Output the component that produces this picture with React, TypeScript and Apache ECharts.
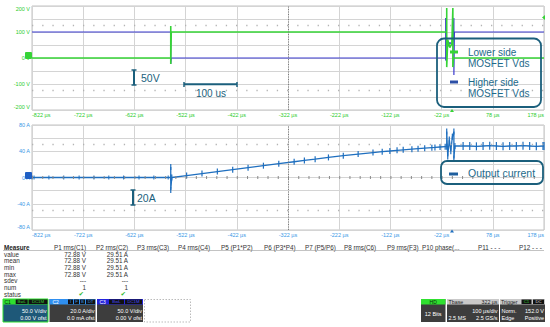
import React, { useEffect, useRef } from 'react';
import * as echarts from 'echarts';

// ---------- data ----------
const AXIS_OFFSET_US = 822; // x axis runs 0..1000 internally, label = value - offset
const voltLabelValues = [-200, -100, 0, 100, 200];
const ampLabelValues = [-80, -40, 0, 40, 80];

const lowSideTimeUs = [-822, -551, -551, -551, -550, -12, -12, -12, -10, -6, -2, 0, 0, 1, 178];
const lowSideVolts = [0, 0, 123, -23, 100, 100, 192, -35, 70, 40, 55, 192, -35, 0, 0];

const highSideTimeUs = [-822, -551, -551, -550, -14, -14, -14, -11, -6, -1, 2, 2, 3, 178];
const highSideVolts = [100, 100, -23, 0, 0, 154, -10, 40, 60, 50, 154, -65, 100, 100];

const currentTimeUs = [
  -822, -818, -789, -760, -730, -701, -672, -643, -613, -584, -556, -551, -551, -551, -549,
  -520, -490, -460, -430, -400, -370, -340, -310, -290, -269, -243, -214, -185, -156, -138,
  -123, -109, -97, -80, -68, -55, -41, -35, -25, -15, -12, -12, -10, -7, -4, -1, 2, 2, 4,
  20, 33, 46, 59, 72, 85, 98, 111, 124, 137, 150, 163, 176, 178,
];
const currentAmps = [
  0, 0, 0, 0, 0, 0, 0, 0, 0, 0, 0, 0, 16, -19, 0,
  3, 6, 9, 12, 15, 18, 21, 24, 26, 28, 30.6, 33.3, 35.7, 38, 39.4,
  40.4, 41.4, 42.2, 43.2, 43.9, 44.7, 45.5, 45.8, 46.5, 47, 47, 70, 32, 58, 40, 62, 70, 29, 48,
  48, 48, 47.5, 48, 48.5, 48, 47.5, 48, 48, 48.5, 48, 47.5, 48, 48,
];

const measureHeaders = ['P1 rms(C1)', 'P2 rms(C2)', 'P3 rms(C3)', 'P4 rms(C4)', 'P5 (P1*P2)', 'P6 (P3*P4)', 'P7 (P5/P6)', 'P8 rms(C6)', 'P9 rms(F3)', 'P10 phase(...', 'P11 - - -', 'P12 - - -'];
const measureRows = ['value', 'mean', 'min', 'max', 'sdev', 'num', 'status'];
const p1Values = ['72.88 V', '72.88 V', '72.88 V', '72.88 V', '---', '1', '✔'];
const p2Values = ['29.51 A', '29.51 A', '29.51 A', '29.51 A', '---', '1', '✔'];

// ---------- layout / style ----------
const FONT = '"Liberation Sans", Arial, sans-serif';
const GREEN = '#36d336';
const BLUE_V = '#3b3bd0';
const BLUE_I = '#1f6fbf';
const TEAL = '#1b5f7c';
const LBL_GREEN = '#2ccc2c';
const LBL_BLUE = '#3a98e6';
const headerX = [54, 96, 137, 178, 221, 264, 305, 344, 387, 422, 478, 519];

const pairs = (ts: number[], vs: number[]) => ts.map((t, i) => [t + AXIS_OFFSET_US, vs[i]]);

function txt(x: number, y: number, text: string, size: number, fill: string, align = 'left', vAlign = 'middle', weight = 'normal', family = FONT) {
  return {
    type: 'text', x, y, z: 100, silent: true,
    style: { text, fill, fontSize: size, fontFamily: family, fontWeight: weight, align, verticalAlign: vAlign, textAlign: align, textVerticalAlign: vAlign },
  };
}
function rect(x: number, y: number, w: number, h: number, style: any, r = 0) {
  return { type: 'rect', z: 99, silent: true, shape: { x, y, width: w, height: h, r }, style };
}
function ln(x1: number, y1: number, x2: number, y2: number, stroke: string, lineWidth = 1, extra: any = {}) {
  return { type: 'line', z: 100, silent: true, shape: { x1, y1, x2, y2 }, style: { stroke, lineWidth, ...extra } };
}
function poly(points: number[][], fill: string) {
  return { type: 'polygon', z: 101, silent: true, shape: { points }, style: { fill } };
}

function buildGraphics() {
  const g: any[] = [];
  // channel markers
  g.push(rect(25, 52, 7, 7, { fill: GREEN }, 1));
  g.push(rect(25, 172, 7, 7, { fill: '#1f5fc4' }, 1));
  // trigger markers
  g.push(poly([[450, 112], [454, 112], [452, 109]], GREEN));
  g.push(poly([[450, 232.5], [454, 232.5], [452, 229.5]], BLUE_I));
  g.push(poly([[545, 15], [545, 20], [542, 17.5]], GREEN));

  // scale annotations
  g.push(ln(134, 70, 134, 85, TEAL, 2));
  g.push(ln(131.5, 70, 136.5, 70, TEAL, 1.5));
  g.push(ln(131.5, 85, 136.5, 85, TEAL, 1.5));
  g.push(txt(141, 78, '50V', 10.5, TEAL));
  g.push(ln(184, 84.3, 237, 84.3, TEAL, 2));
  g.push(ln(184, 82, 184, 87, TEAL, 1.5));
  g.push(ln(237, 82, 237, 87, TEAL, 1.5));
  g.push(txt(211, 93.5, '100 us', 10, TEAL, 'center'));
  g.push(ln(133, 190, 133, 205, TEAL, 2));
  g.push(ln(130.5, 190, 135.5, 190, TEAL, 1.5));
  g.push(ln(130.5, 205, 135.5, 205, TEAL, 1.5));
  g.push(txt(137, 198, '20A', 10.5, TEAL));

  // legend boxes
  g.push(rect(437, 38.5, 104, 68.5, { fill: 'none', stroke: TEAL, lineWidth: 1.8 }, 7));
  g.push(rect(450, 50.5, 8, 3, { fill: GREEN }));
  g.push(txt(468, 52, 'Lower side', 10, '#1d6a8a'));
  g.push(txt(468, 63.5, 'MOSFET Vds', 10, '#1d6a8a'));
  g.push(rect(450, 80.5, 8, 3, { fill: '#2c4fa6' }));
  g.push(txt(468, 82, 'Higher side', 10, '#1d6a8a'));
  g.push(txt(468, 93.5, 'MOSFET Vds', 10, '#1d6a8a'));
  g.push(rect(441, 161, 102, 23, { fill: 'none', stroke: TEAL, lineWidth: 1.8 }, 6));
  g.push(rect(449, 172.5, 9, 3, { fill: '#1f5f9e' }));
  g.push(txt(468, 172.5, 'Output current', 10.5, '#1d6a8a'));

  // measurement table
  g.push(txt(4, 247, 'Measure', 6.3, '#222', 'left', 'middle', 'bold'));
  measureHeaders.forEach((h, i) => g.push(txt(headerX[i], 247, h, 6.3, '#333')));
  g.push(ln(3, 250.5, 544, 250.5, '#9a9a9a', 0.6));
  measureRows.forEach((r, i) => {
    const y = 254.3 + i * 6.67;
    g.push(txt(4, y, r, 6.3, '#333'));
    if (r === 'status') {
      g.push(txt(84, y, p1Values[i], 6.5, '#33bb33', 'right', 'middle', 'normal', '"DejaVu Sans", sans-serif'));
      g.push(txt(126, y, p2Values[i], 6.5, '#33bb33', 'right', 'middle', 'normal', '"DejaVu Sans", sans-serif'));
    } else {
      g.push(txt(86, y, p1Values[i], 6.3, '#333', 'right'));
      g.push(txt(128, y, p2Values[i], 6.3, '#333', 'right'));
    }
  });

  // channel boxes
  const BODY = '#3d3d3d';
  // C1
  g.push(rect(3, 299, 45, 23, { fill: '#1e5878', stroke: '#2fe02f', lineWidth: 1 }));
  g.push(rect(3, 299, 45, 5.5, { fill: '#2fe02f' }));
  g.push(txt(4.5, 301.8, 'C1', 5, '#0b2b0b'));
  g.push(rect(15.7, 299.5, 12, 4.6, { fill: '#111' }));
  g.push(txt(21.7, 301.8, 'BwL', 4.3, GREEN, 'center'));
  g.push(rect(28.5, 299.5, 19, 4.6, { fill: '#111' }));
  g.push(txt(38, 301.8, 'DC1M', 4.3, GREEN, 'center'));
  g.push(txt(46.5, 311.2, '50.0 V/div', 5.5, '#ffffff', 'right'));
  g.push(txt(46.5, 317.8, '0.00 V ofst', 5.5, '#ffffff', 'right'));
  // C2
  g.push(rect(49.5, 299, 46, 23, { fill: BODY }));
  g.push(rect(49.5, 299, 46, 5.5, { fill: '#2f8ff0' }));
  g.push(txt(52.5, 301.8, 'C2', 5, '#ffffff'));
  [['I', 68, 5], ['F', 74, 5], ['B', 80, 5], ['DT', 86, 9]].forEach(([s, x, w]: any) => {
    g.push(rect(x, 299.5, w, 4.6, { fill: '#111' }));
    g.push(txt(x + w / 2, 301.8, s, 4.3, LBL_BLUE, 'center'));
  });
  g.push(txt(94.5, 311.2, '20.0 A/div', 5.5, '#ffffff', 'right'));
  g.push(txt(94.5, 317.8, '0.0 mA ofst', 5.5, '#ffffff', 'right'));
  // C3
  g.push(rect(97, 299, 46, 23, { fill: BODY }));
  g.push(rect(97, 299, 46, 5.5, { fill: '#2323dc' }));
  g.push(txt(99.5, 301.8, 'C3', 5, '#ffffff'));
  g.push(rect(109, 299.5, 15, 4.6, { fill: '#111' }));
  g.push(txt(116.5, 301.8, 'BwL', 4.3, '#4a4aff', 'center'));
  g.push(rect(125, 299.5, 17, 4.6, { fill: '#111' }));
  g.push(txt(133.5, 301.8, 'DC1M', 4.3, '#4a4aff', 'center'));
  g.push(txt(142, 311.2, '50.0 V/div', 5.5, '#ffffff', 'right'));
  g.push(txt(142, 317.8, '0.00 V ofst', 5.5, '#ffffff', 'right'));
  // empty slot
  g.push(rect(144.5, 299.5, 46, 22.5, { fill: 'none', stroke: '#aaaaaa', lineWidth: 0.8, lineDash: [1.5, 1.5] }));

  // HD
  g.push(rect(421, 299, 24.5, 23, { fill: BODY }));
  g.push(rect(421, 299, 24.5, 5.5, { fill: '#2fe02f' }));
  g.push(txt(433.2, 301.8, 'HD', 5, '#0b2b0b', 'center'));
  g.push(txt(433.2, 314, '12 Bits', 5.5, '#ffffff', 'center'));
  // Tbase
  g.push(rect(447, 299, 52, 23, { fill: BODY }));
  g.push(rect(447, 299, 52, 5.5, { fill: '#c9c9c9' }));
  g.push(txt(448.5, 301.8, 'Tbase', 5.3, '#222'));
  g.push(txt(497.5, 301.8, '322 µs', 5.3, '#222', 'right'));
  g.push(txt(497.5, 311.2, '100 µs/div', 5.5, '#ffffff', 'right'));
  g.push(txt(448.5, 317.8, '2.5 MS', 5.5, '#ffffff'));
  g.push(txt(497.5, 317.8, '2.5 GS/s', 5.5, '#ffffff', 'right'));
  // Trigger
  g.push(rect(500, 299, 45, 23, { fill: BODY }));
  g.push(rect(500, 299, 45, 5.5, { fill: '#c9c9c9' }));
  g.push(txt(501, 301.8, 'Trigger', 5.3, '#222'));
  g.push(rect(521.5, 299.5, 10, 4.6, { fill: '#111' }));
  g.push(txt(526.5, 301.8, 'C1', 4.3, GREEN, 'center'));
  g.push(rect(533, 299.5, 11, 4.6, { fill: '#111' }));
  g.push(txt(538.5, 301.8, 'DC', 4.3, '#dddddd', 'center'));
  g.push(txt(501.5, 311.2, 'Norm.', 5.5, '#ffffff'));
  g.push(txt(544, 311.2, '152.0 V', 5.5, '#ffffff', 'right'));
  g.push(txt(501.5, 317.8, 'Edge', 5.5, '#ffffff'));
  g.push(txt(544, 317.8, 'Positive', 5.5, '#ffffff', 'right'));
  return g;
}

function xAxisFor(gridIndex: number, color: string, margin: number) {
  return {
    type: 'value', gridIndex, min: 0, max: 1000, interval: 100,
    axisLine: { show: false }, axisTick: { show: false },
    axisLabel: {
      color, fontSize: 5.5, fontFamily: FONT, margin,
      formatter: (v: number) => `${Math.round(v - AXIS_OFFSET_US)} µs`,
      alignMinLabel: 'left', alignMaxLabel: 'right',
    },
    splitLine: { show: true, lineStyle: { color: '#d4d4d4', width: 1 } },
  };
}
function yAxisFor(gridIndex: number, min: number, max: number, interval: number, labels: number[], unit: string, color: string, alignMax: string) {
  return {
    type: 'value', gridIndex, min, max, interval,
    axisLine: { show: false }, axisTick: { show: false },
    axisLabel: {
      color, fontSize: 5.5, fontFamily: FONT, margin: 2,
      formatter: (v: number) => (labels.includes(v) ? `${v} ${unit}` : ''),
      verticalAlignMaxLabel: alignMax, verticalAlignMinLabel: 'bottom',
    },
    splitLine: { show: true, lineStyle: { color: '#d4d4d4', width: 1 } },
  };
}

const centerMarks = (rowVal: number, dotted: boolean) => ({
  silent: true, symbol: 'none', label: { show: false }, animation: false,
  data: [
    { xAxis: 500, lineStyle: { color: '#7a7a7a', width: 1, type: [1, 1.5] } },
    { yAxis: rowVal, lineStyle: { color: '#b4b4b4', width: 1.3, type: [1.3, 8.9] } },
    { yAxis: -rowVal, lineStyle: { color: '#b4b4b4', width: 1.3, type: [1.3, 8.9] } },
    ...(dotted ? [{ yAxis: 0, lineStyle: { color: '#8a8a8a', width: 3, type: [1, 9.24] } }] : []),
  ],
});

export default function App() {
  const ref = useRef<HTMLDivElement>(null);
  useEffect(() => {
    if (!ref.current) return;
    const chart = echarts.init(ref.current, undefined, { renderer: 'svg' });
    chart.setOption({
      animation: false,
      backgroundColor: '#ffffff',
      grid: [
        { left: 32, top: 6, width: 512, height: 104, show: true, borderColor: '#c2c2c2', borderWidth: 1 },
        { left: 32, top: 125, width: 512, height: 105, show: true, borderColor: '#c2c2c2', borderWidth: 1 },
      ],
      xAxis: [xAxisFor(0, LBL_GREEN, 1.5), xAxisFor(1, LBL_BLUE, 2)],
      yAxis: [
        yAxisFor(0, -200, 200, 50, voltLabelValues, 'V', LBL_GREEN, 'top'),
        yAxisFor(1, -80, 80, 20, ampLabelValues, 'A', LBL_BLUE, 'middle'),
      ],
      series: [
        {
          name: 'Higher side MOSFET Vds', type: 'line', xAxisIndex: 0, yAxisIndex: 0,
          data: pairs(highSideTimeUs, highSideVolts), symbol: 'none',
          lineStyle: { color: BLUE_V, width: 1.2 }, z: 3,
          markLine: centerMarks(125, false),
        },
        {
          name: 'Lower side MOSFET Vds', type: 'line', xAxisIndex: 0, yAxisIndex: 0,
          data: pairs(lowSideTimeUs, lowSideVolts), symbol: 'none',
          lineStyle: { color: GREEN, width: 1.6 }, z: 4,
        },
        {
          name: 'Output current', type: 'line', xAxisIndex: 1, yAxisIndex: 1,
          data: pairs(currentTimeUs, currentAmps),
          symbol: 'rect', showSymbol: true, showAllSymbol: true,
          symbolSize: (v: number[]) => {
            const t = v[0] - AXIS_OFFSET_US;
            return t < -551 ? [1, 4] : t > 10 ? [1.2, 8] : [1.2, 6];
          },
          itemStyle: { color: BLUE_I },
          lineStyle: { color: BLUE_I, width: 1.3 }, z: 4,
          markLine: centerMarks(50, true),
        },
      ],
      graphic: buildGraphics(),
    });
    return () => chart.dispose();
  }, []);
  return <div ref={ref} style={{ position: 'fixed', left: 0, top: 0, width: 550, height: 327, background: '#fff' }} />;
}
